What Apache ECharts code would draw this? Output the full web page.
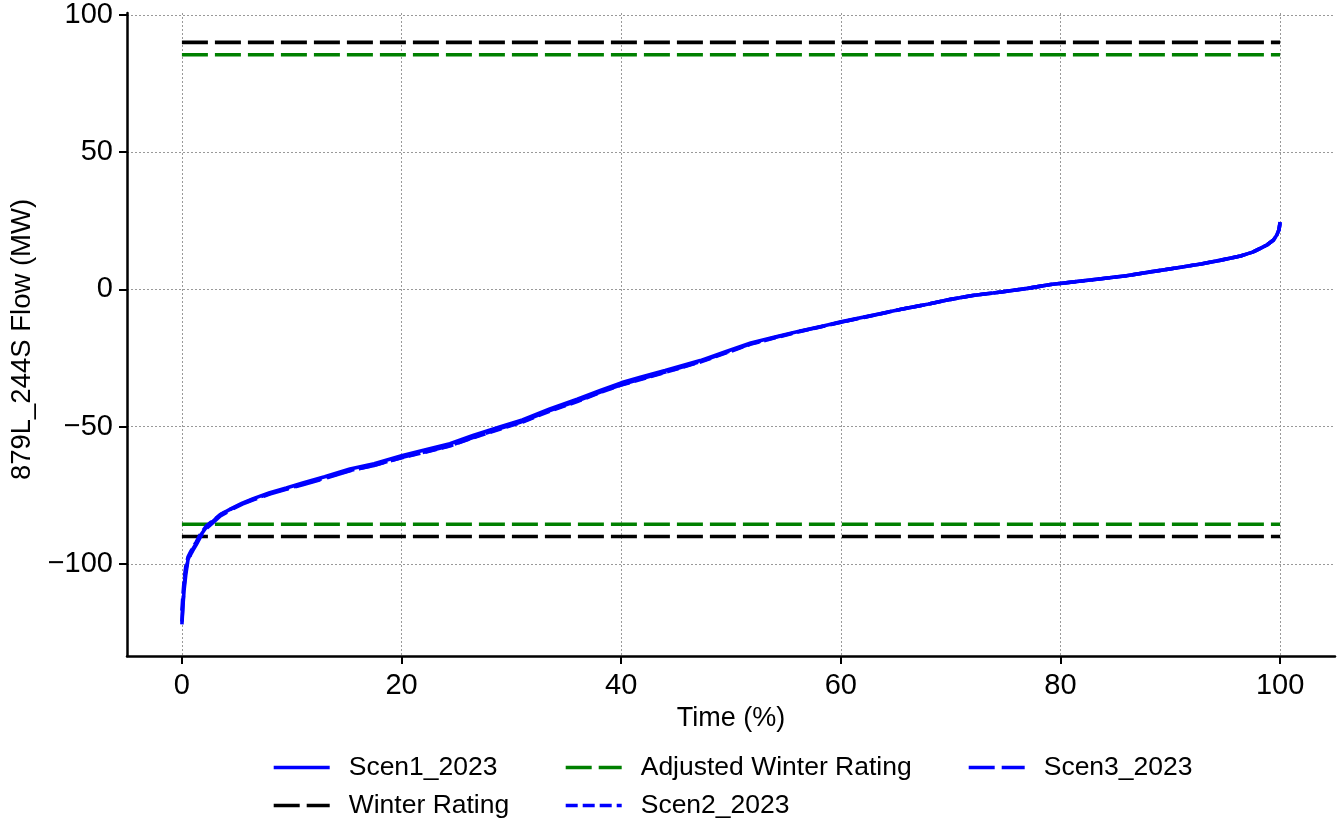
<!DOCTYPE html>
<html>
<head>
<meta charset="utf-8">
<script src="https://cdn.jsdelivr.net/npm/echarts@6/dist/echarts.min.js"></script>
<style>
html,body{margin:0;padding:0;background:#fff;}
#c{width:1340px;height:822px;}
</style>
</head>
<body>
<div id="c"></div>
<script>
// ---- data ----
const timePct = [0, 0.1, 0.2, 0.35, 0.55, 0.8, 1.0, 1.3, 1.7, 2.25, 2.8, 3.5, 4.5, 5.5, 6.5, 8, 9.5, 11, 13, 15.3, 17.5, 20, 22, 24.4, 26.5, 29, 31, 33.5, 36, 38.1, 40, 41.75, 44, 47.2, 49.5, 51.8, 54, 56.3, 58.5, 60, 63, 65.5, 68, 70, 72, 74.6, 77, 79.1, 81.5, 83.7, 86, 88.2, 90.5, 92.8, 94.5, 96.4, 97.5, 98.2, 98.8, 99.4, 99.7, 99.9, 100];
const scen1 = [-122, -115, -109.5, -104, -98.5, -96, -94.5, -92.5, -89.5, -86.4, -84.5, -82, -79.8, -77.8, -76.2, -74, -72.3, -70.5, -68.2, -65.4, -63.5, -60.6, -58.6, -56.2, -53.2, -50, -47.5, -43.5, -40, -36.8, -34, -32, -29.5, -25.9, -22.7, -19.5, -17.3, -15.1, -13.2, -11.8, -9.3, -7.2, -5.3, -3.6, -2.2, -0.9, 0.4, 1.8, 2.9, 3.9, 5, 6.4, 7.8, 9.3, 10.6, 12.2, 13.6, 15, 16.2, 18, 19.8, 21.8, 24.6];
const scen2 = [-117, -111, -106, -101, -97.5, -95.5, -94, -92, -89, -86, -84.3, -82, -79.9, -78, -76.4, -74.3, -72.6, -70.9, -68.6, -65.9, -64, -61.3, -59.4, -57, -54, -50.8, -48.3, -44.3, -40.8, -37.5, -34.8, -32.8, -30.2, -26.4, -23.2, -19.9, -17.6, -15.3, -13.3, -11.9, -9.4, -7.2, -5.3, -3.6, -2.2, -0.9, 0.4, 1.8, 2.9, 3.9, 5, 6.4, 7.8, 9.3, 10.6, 12.2, 13.6, 15, 16.2, 18, 19.8, 21.8, 24.4];
const scen3 = [-121, -114, -108, -102, -99, -96.5, -95, -93, -90, -87, -85, -82.5, -80.2, -78.2, -76.6, -74.5, -72.8, -71.1, -68.8, -66, -64.1, -61.2, -59.3, -56.9, -53.9, -50.6, -48.1, -44.1, -40.6, -37.4, -34.7, -32.6, -30.1, -26.3, -23, -19.8, -17.5, -15.2, -13.3, -11.9, -9.4, -7.2, -5.3, -3.6, -2.2, -0.9, 0.4, 1.8, 2.9, 3.9, 5, 6.4, 7.8, 9.3, 10.6, 12.2, 13.6, 15, 16.2, 18, 19.8, 21.8, 24.5];
const winterRating = 90;
const adjustedWinterRating = 85.5;
const ratingSpan = [0, 100];
const xTicks = [0, 20, 40, 60, 80, 100];
const yTicks = [-100, -50, 0, 50, 100];

// ---- build ----
const pairs = (xs, ys) => xs.map((x, i) => [x, ys[i]]);
const FONT = 'Liberation Sans, Arial, sans-serif';
const BLUE = '#0000ff';
const GREEN = '#008000';
const BLACK = '#000000';
const LW = 3.6;

function ratingLine(name, value, color) {
  return {
    name: name,
    type: 'line',
    symbol: 'none',
    connectNulls: false,
    data: [[ratingSpan[0], value], [ratingSpan[1], value], [null, null], [ratingSpan[0], -value], [ratingSpan[1], -value]],
    lineStyle: { color: color, width: LW, type: [26, 7] },
    itemStyle: { color: color },
    silent: true
  };
}

const chart = echarts.init(document.getElementById('c'), null, { renderer: 'canvas' });
const legendText = { fontFamily: FONT, fontSize: 26.5, lineHeight: 26, color: '#000', padding: [0, 0, 0, 14] };
const legendBase = {
  orient: 'vertical', padding: 0, itemWidth: 56, itemHeight: 24, itemGap: 11,
  textStyle: legendText, selectedMode: false,
  itemStyle: { opacity: 0 }, lineStyle: { width: 3.4 }
};
chart.setOption({
  animation: false,
  textStyle: { fontFamily: FONT },
  grid: { left: 127, right: 5, top: 13, bottom: 166, containLabel: false },
  xAxis: {
    type: 'value', min: -5, max: 105,
    name: 'Time (%)', nameLocation: 'middle', nameGap: 48,
    nameTextStyle: { fontFamily: FONT, fontSize: 27, color: '#000' },
    axisLine: { show: true, onZero: false, lineStyle: { color: '#000', width: 2.5 } },
    axisTick: { show: true, customValues: xTicks, length: 8, lineStyle: { color: '#000', width: 2 } },
    axisLabel: { customValues: xTicks, fontFamily: FONT, fontSize: 29, color: '#000', margin: 15 },
    splitLine: { show: true, lineStyle: { color: '#999', width: 1, type: [2, 2] } }
  },
  yAxis: {
    type: 'value', min: -133.5, max: 100.7,
    name: '879L_244S Flow (MW)', nameLocation: 'middle', nameGap: 72,
    nameTextStyle: { fontFamily: FONT, fontSize: 27.5, color: '#000', padding: [0, 10, 0, 0] },
    axisLine: { show: true, onZero: false, lineStyle: { color: '#000', width: 2.5 } },
    axisTick: { show: true, customValues: yTicks, length: 8, lineStyle: { color: '#000', width: 2 } },
    axisLabel: { customValues: yTicks, fontFamily: FONT, fontSize: 29, color: '#000', margin: 14,
      formatter: v => (v < 0 ? '\u2212' + Math.abs(v) : String(v)) },
    splitLine: { show: true, lineStyle: { color: '#999', width: 1, type: [2, 2] } }
  },
  legend: [
    Object.assign({}, legendBase, { left: 272, top: 754, data: ['Scen1_2023', 'Winter Rating'] }),
    Object.assign({}, legendBase, { left: 564, top: 754, data: ['Adjusted Winter Rating', 'Scen2_2023'] }),
    Object.assign({}, legendBase, { left: 967, top: 754, data: ['Scen3_2023'] })
  ],
  series: [
    ratingLine('Winter Rating', winterRating, BLACK),
    ratingLine('Adjusted Winter Rating', adjustedWinterRating, GREEN),
    { name: 'Scen1_2023', type: 'line', symbol: 'none', data: pairs(timePct, scen1),
      lineStyle: { color: BLUE, width: LW }, itemStyle: { color: BLUE } },
    { name: 'Scen2_2023', type: 'line', symbol: 'none', data: pairs(timePct, scen2),
      lineStyle: { color: BLUE, width: LW, type: [12, 5] }, itemStyle: { color: BLUE } },
    { name: 'Scen3_2023', type: 'line', symbol: 'none', data: pairs(timePct, scen3),
      lineStyle: { color: BLUE, width: LW, type: [26, 7] }, itemStyle: { color: BLUE } }
  ]
});
</script>
</body>
</html>
